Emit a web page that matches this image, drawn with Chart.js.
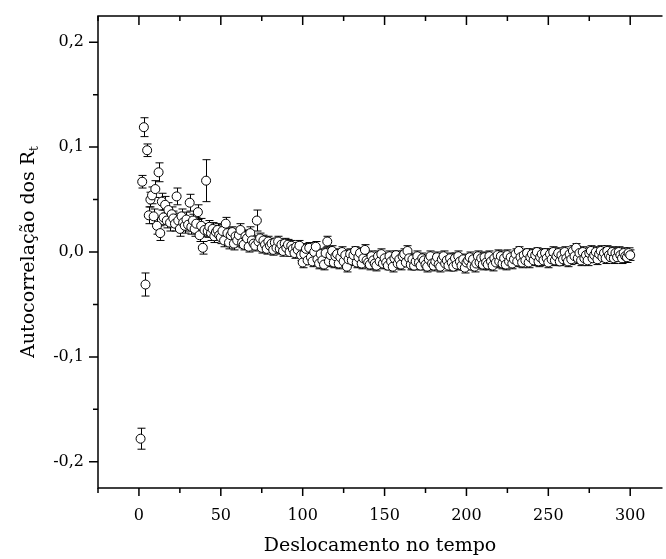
<!DOCTYPE html>
<html>
<head>
<meta charset="utf-8">
<script src="https://cdn.jsdelivr.net/npm/chart.js@4.4.0/dist/chart.umd.min.js"></script>
<style>
  html, body { margin: 0; padding: 0; background: #fff; overflow: hidden; }
  canvas { display: block; }
</style>
</head>
<body>
<canvas id="acf" width="666" height="559"></canvas>
<script>
// deslocamentos (lags) 1..300
const lags = Array.from({ length: 300 }, (_, i) => i + 1);

// autocorrelacao
const acf = [
  -0.178, 0.067, 0.119, -0.031, 0.097, 0.035, 0.050, 0.054, 0.034, 0.060,
  0.025, 0.076, 0.018, 0.048, 0.033, 0.045, 0.030, 0.040, 0.028, 0.036,
  0.032, 0.027, 0.053, 0.030, 0.022, 0.034, 0.028, 0.025, 0.031, 0.026,
  0.047, 0.024, 0.030, 0.022, 0.027, 0.038, 0.016, 0.025, 0.004, 0.021,
  0.068, 0.020, 0.024, 0.018, 0.022, 0.015, 0.019, 0.021, 0.016, 0.014,
  0.020, 0.011, 0.027, 0.018, 0.009, 0.016, 0.019, 0.008, 0.015, 0.011,
  0.016, 0.021, 0.009, 0.007, 0.015, 0.013, 0.005, 0.018, 0.011, 0.008,
  0.006, 0.030, 0.010, 0.013, 0.004, 0.011, 0.007, 0.003, 0.010, 0.006,
  0.008, 0.002, 0.009, 0.004, 0.010, 0.003, 0.007, 0.001, 0.008, 0.004,
  0.007, 0.000, 0.006, 0.003, -0.001, 0.005, 0.002, 0.006, -0.003, -0.010,
  -0.002, 0.003, -0.008, 0.004, -0.005, -0.009, 0.000, 0.005, -0.007, -0.011,
  -0.002, -0.008, -0.012, -0.001, 0.010, -0.009, -0.003, 0.001, -0.010, -0.004,
  -0.002, -0.011, -0.005, 0.000, -0.009, -0.003, -0.014, -0.007, -0.002, -0.008,
  -0.003, 0.001, -0.010, -0.005, -0.001, -0.011, -0.006, 0.002, -0.008, -0.010,
  -0.012, -0.004, -0.008, -0.011, -0.013, -0.004, -0.009, -0.002, -0.011, -0.006,
  -0.010, -0.013, -0.004, -0.009, -0.014, -0.006, -0.003, -0.011, -0.007, -0.012,
  -0.004, -0.002, -0.010, 0.001, -0.006, -0.012, -0.007, -0.013, -0.009, -0.004,
  -0.010, -0.013, -0.006, -0.008, -0.012, -0.014, -0.007, -0.004, -0.011, -0.013,
  -0.009, -0.005, -0.012, -0.014, -0.007, -0.004, -0.011, -0.008, -0.013, -0.006,
  -0.010, -0.014, -0.006, -0.012, -0.004, -0.009, -0.013, -0.007, -0.015, -0.010,
  -0.008, -0.005, -0.013, -0.007, -0.014, -0.011, -0.004, -0.010, -0.006, -0.012,
  -0.005, -0.010, -0.012, -0.004, -0.009, -0.013, -0.006, -0.010, -0.003, -0.009,
  -0.004, -0.011, -0.006, -0.012, -0.003, -0.009, -0.005, -0.011, -0.007, -0.002,
  -0.009, 0.001, -0.005, -0.010, -0.003, -0.008, -0.001, -0.010, -0.005, -0.002,
  -0.008, -0.003, 0.000, -0.009, -0.005, -0.002, -0.008, -0.001, -0.006, -0.010,
  -0.002, -0.007, 0.000, -0.008, -0.004, -0.001, -0.009, -0.003, -0.007, 0.000,
  -0.006, -0.009, -0.002, -0.007, 0.001, -0.004, 0.004, -0.006, -0.001, -0.008,
  0.000, -0.006, -0.003, -0.008, -0.001, 0.001, -0.006, -0.003, 0.000, -0.007,
  -0.002, 0.001, -0.005, -0.001, -0.006, 0.001, -0.003, -0.005, 0.000, -0.006,
  -0.001, -0.005, 0.000, -0.003, -0.006, -0.001, -0.004, -0.005, -0.001, -0.003
];

// barras de erro (+/-)
const acfErr = [
  0.010, 0.006, 0.009, 0.011, 0.006, 0.008, 0.007, 0.008, 0.007, 0.008,
  0.008, 0.009, 0.007, 0.008, 0.007, 0.008, 0.007, 0.007, 0.008, 0.007,
  0.007, 0.007, 0.008, 0.007, 0.007, 0.007, 0.006, 0.007, 0.007, 0.006,
  0.008, 0.007, 0.006, 0.007, 0.006, 0.007, 0.006, 0.007, 0.006, 0.006,
  0.020, 0.006, 0.006, 0.007, 0.006, 0.006, 0.006, 0.006, 0.005, 0.006,
  0.006, 0.006, 0.006, 0.005, 0.006, 0.006, 0.005, 0.006, 0.005, 0.006,
  0.005, 0.006, 0.005, 0.005, 0.006, 0.005, 0.005, 0.006, 0.005, 0.005,
  0.005, 0.010, 0.005, 0.005, 0.005, 0.005, 0.005, 0.005, 0.005, 0.005,
  0.005, 0.005, 0.004, 0.005, 0.005, 0.005, 0.004, 0.005, 0.005, 0.005,
  0.005, 0.004, 0.005, 0.005, 0.005, 0.004, 0.005, 0.005, 0.005, 0.005,
  0.005, 0.005, 0.004, 0.005, 0.005, 0.005, 0.004, 0.005, 0.005, 0.005,
  0.005, 0.004, 0.005, 0.005, 0.005, 0.005, 0.004, 0.005, 0.005, 0.005,
  0.005, 0.005, 0.004, 0.005, 0.005, 0.005, 0.005, 0.004, 0.005, 0.005,
  0.005, 0.004, 0.005, 0.005, 0.005, 0.005, 0.004, 0.005, 0.005, 0.005,
  0.005, 0.005, 0.004, 0.005, 0.005, 0.005, 0.004, 0.005, 0.005, 0.005,
  0.005, 0.004, 0.005, 0.005, 0.005, 0.005, 0.004, 0.005, 0.005, 0.005,
  0.005, 0.005, 0.004, 0.005, 0.005, 0.005, 0.005, 0.004, 0.005, 0.005,
  0.005, 0.004, 0.005, 0.005, 0.005, 0.005, 0.004, 0.005, 0.005, 0.005,
  0.005, 0.005, 0.004, 0.005, 0.005, 0.005, 0.004, 0.005, 0.005, 0.005,
  0.005, 0.004, 0.005, 0.005, 0.005, 0.005, 0.004, 0.005, 0.005, 0.005,
  0.005, 0.005, 0.004, 0.005, 0.005, 0.005, 0.005, 0.004, 0.005, 0.005,
  0.005, 0.004, 0.005, 0.005, 0.005, 0.005, 0.004, 0.005, 0.005, 0.005,
  0.005, 0.005, 0.004, 0.005, 0.005, 0.005, 0.004, 0.005, 0.005, 0.005,
  0.005, 0.004, 0.005, 0.005, 0.005, 0.005, 0.004, 0.005, 0.005, 0.005,
  0.005, 0.005, 0.004, 0.005, 0.005, 0.005, 0.005, 0.004, 0.005, 0.005,
  0.005, 0.004, 0.005, 0.005, 0.005, 0.005, 0.004, 0.005, 0.005, 0.005,
  0.005, 0.005, 0.004, 0.005, 0.005, 0.005, 0.004, 0.005, 0.005, 0.005,
  0.005, 0.004, 0.005, 0.005, 0.005, 0.005, 0.004, 0.005, 0.005, 0.005,
  0.005, 0.005, 0.004, 0.005, 0.005, 0.005, 0.005, 0.004, 0.005, 0.005,
  0.005, 0.004, 0.005, 0.005, 0.005, 0.005, 0.004, 0.005, 0.005, 0.005
];

const xTicks = [0, 50, 100, 150, 200, 250, 300];
const xTickLabels = ['0', '50', '100', '150', '200', '250', '300'];
const xMinorTicks = [-25, 25, 75, 125, 175, 225, 275];
const yTicks = [-0.2, -0.1, 0.0, 0.1, 0.2];
const yTickLabels = ['-0,2', '-0,1', '0,0', '0,1', '0,2'];
const yMinorTicks = [-0.15, -0.05, 0.05, 0.15];

const FONT = '"DejaVu Serif", "Liberation Serif", serif';

// desenha barras de erro, eixos, ticks e titulos
const eixos = {
  id: 'eixos',
  beforeDatasetsDraw(chart) {
    const { ctx, scales: { x, y } } = chart;
    ctx.save();
    ctx.strokeStyle = '#000';
    ctx.lineWidth = 1;
    ctx.beginPath();
    lags.forEach((lag, i) => {
      const px = Math.round(x.getPixelForValue(lag)) + 0.5;
      const top = y.getPixelForValue(acf[i] + acfErr[i]);
      const bot = y.getPixelForValue(acf[i] - acfErr[i]);
      ctx.moveTo(px, top); ctx.lineTo(px, bot);
      ctx.moveTo(px - 4, top); ctx.lineTo(px + 4, top);
      ctx.moveTo(px - 4, bot); ctx.lineTo(px + 4, bot);
    });
    ctx.stroke();
    ctx.restore();
  },
  afterDraw(chart) {
    const { ctx, chartArea: a, scales: { x, y } } = chart;
    ctx.save();
    ctx.strokeStyle = '#000';
    ctx.lineWidth = 1.5;
    // moldura: esquerda, topo, base
    ctx.beginPath();
    ctx.moveTo(a.right + 2, a.top); ctx.lineTo(a.left, a.top);
    ctx.lineTo(a.left, a.bottom); ctx.lineTo(a.right + 2, a.bottom);
    ctx.stroke();

    ctx.beginPath();
    xTicks.forEach(v => {
      const px = x.getPixelForValue(v);
      ctx.moveTo(px, a.bottom); ctx.lineTo(px, a.bottom + 8);
      ctx.moveTo(px, a.top); ctx.lineTo(px, a.top + 9);
    });
    xMinorTicks.forEach(v => {
      const px = x.getPixelForValue(v);
      ctx.moveTo(px, a.bottom); ctx.lineTo(px, a.bottom + 5);
      ctx.moveTo(px, a.top); ctx.lineTo(px, a.top + 5);
    });
    yTicks.forEach(v => {
      const py = y.getPixelForValue(v);
      ctx.moveTo(a.left, py); ctx.lineTo(a.left - 9, py);
    });
    yMinorTicks.forEach(v => {
      const py = y.getPixelForValue(v);
      ctx.moveTo(a.left, py); ctx.lineTo(a.left - 5, py);
    });
    ctx.stroke();

    ctx.fillStyle = '#000';
    ctx.font = '16px ' + FONT;
    ctx.textAlign = 'center';
    ctx.textBaseline = 'middle';
    xTicks.forEach((v, i) => ctx.fillText(xTickLabels[i], x.getPixelForValue(v), a.bottom + 28));
    ctx.textAlign = 'right';
    yTicks.forEach((v, i) => ctx.fillText(yTickLabels[i], a.left - 14, y.getPixelForValue(v)));

    // titulo eixo x
    ctx.font = '19px ' + FONT;
    ctx.textAlign = 'center';
    ctx.textBaseline = 'alphabetic';
    ctx.fillText('Deslocamento no tempo', 380, 551);

    // titulo eixo y com subscrito
    const main = 'Autocorrelação dos R';
    ctx.font = '19px ' + FONT;
    const w1 = ctx.measureText(main).width;
    ctx.font = '12px ' + FONT;
    const w2 = ctx.measureText('t').width;
    const start = -(w1 + w2) / 2;
    ctx.translate(34, (a.top + a.bottom) / 2);
    ctx.rotate(-Math.PI / 2);
    ctx.textAlign = 'left';
    ctx.font = '19px ' + FONT;
    ctx.fillText(main, start, 0);
    ctx.font = '12px ' + FONT;
    ctx.fillText('t', start + w1, 4);
    ctx.restore();
  }
};

new Chart(document.getElementById('acf'), {
  type: 'scatter',
  data: {
    datasets: [{
      label: 'Autocorrelação dos Rt',
      data: lags.map((lag, i) => ({ x: lag, y: acf[i] })),
      pointStyle: 'circle',
      pointRadius: 4.5,
      pointHoverRadius: 4.5,
      borderWidth: 1,
      borderColor: '#000',
      backgroundColor: '#fff'
    }]
  },
  options: {
    responsive: false,
    animation: false,
    devicePixelRatio: 1,
    layout: { padding: { left: 98, top: 16, right: 0, bottom: 71 } },
    plugins: { legend: { display: false }, tooltip: { enabled: false } },
    scales: {
      x: { type: 'linear', min: -25, max: 318.5, display: false },
      y: { type: 'linear', min: -0.225, max: 0.225, display: false }
    }
  },
  plugins: [eixos]
});
</script>
</body>
</html>
